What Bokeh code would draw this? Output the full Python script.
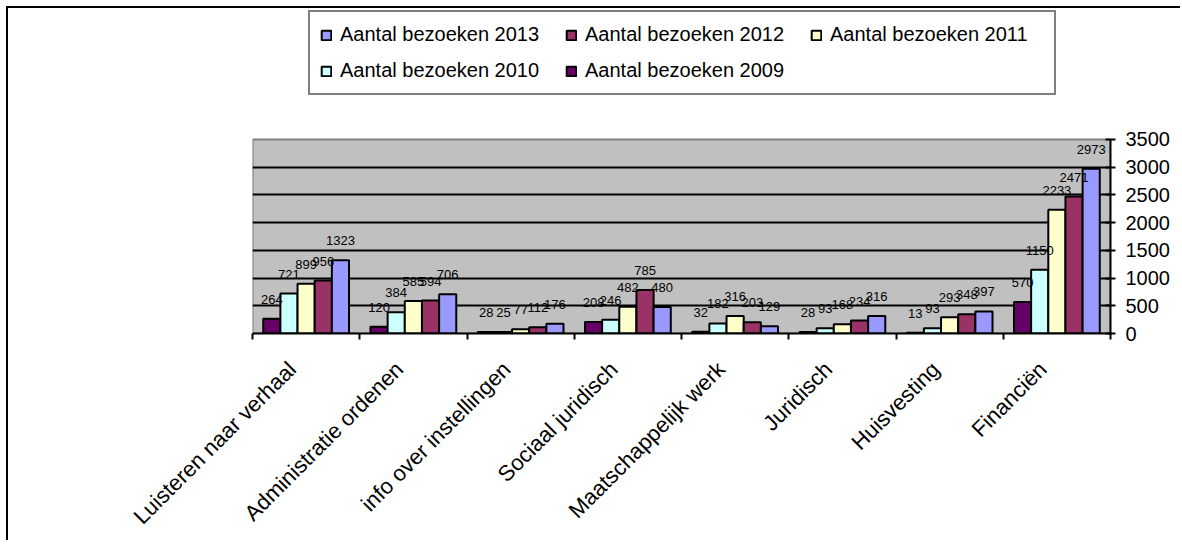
import math
from bokeh.plotting import figure
from bokeh.models import ColumnDataSource, FixedTicker, Legend, LegendItem, Range1d
from bokeh.transform import dodge
from bokeh.core.properties import value
from bokeh.embed import file_html
from bokeh.resources import INLINE

categories = ["Luisteren naar verhaal", "Administratie ordenen", "info over instellingen",
              "Sociaal juridisch", "Maatschappelijk werk", "Juridisch", "Huisvesting", "Financiën"]
v2009 = [264, 120, 28, 208, 32, 28, 13, 570]
v2010 = [721, 384, 25, 246, 182, 93, 93, 1150]
v2011 = [899, 585, 77, 482, 316, 168, 293, 2233]
v2012 = [956, 594, 112, 785, 203, 234, 348, 2471]
v2013 = [1323, 706, 176, 480, 129, 316, 397, 2973]
years = ["2009", "2010", "2011", "2012", "2013"]
colors = ["#660066", "#CCFFFF", "#FFFFCC", "#993366", "#9999FF"]
y_ticks = [0, 500, 1000, 1500, 2000, 2500, 3000, 3500]
y_max = 3500
y_view_max = 5863  # frame extends above the plot area to host the legend

series = [v2009, v2010, v2011, v2012, v2013]
data = {"xc": [i + 0.5 for i in range(len(categories))]}
for y, vals in zip(years, series):
    data["v" + y] = vals
    data["t" + y] = [str(v) for v in vals]
source = ColumnDataSource(data)

FONT = "Liberation Sans"
ncat = len(categories)

p = figure(width=1174, height=534, x_range=Range1d(0, ncat), y_range=Range1d(0, y_view_max),
           y_axis_location="right", output_backend="svg", toolbar_location=None,
           min_border_left=244, min_border_right=72, min_border_top=0, min_border_bottom=209)
p.styles = {"margin-left": "6px", "margin-top": "6px",
            "border-top": "2px solid black", "border-left": "2px solid black"}

p.background_fill_color = "white"
p.border_fill_color = "white"
p.outline_line_color = None

# grey plot area
p.quad(left=[0], right=[ncat], bottom=[0], top=[y_max], fill_color="#C0C0C0",
       line_color="#808080", line_width=2, level="image")

bw = 0.16
offsets = [-0.32, -0.16, 0.0, 0.16, 0.32]
renderers = {}
for y, off, c in zip(years, offsets, colors):
    r = p.vbar(x=dodge("xc", off), top="v" + y, width=bw, bottom=0, source=source,
               fill_color=c, line_color="black", line_width=2)
    renderers[y] = r
for y, off in zip(years, offsets):
    p.text(x=dodge("xc", off), y="v" + y, text="t" + y, source=source,
           text_align="center", text_baseline="bottom", y_offset=-15,
           text_font=value(FONT), text_font_size="13px", text_color="black")

# x axis: category labels near centres, tick marks at boundaries
label_pos = [i + 0.37 for i in range(ncat)]
xa = p.xaxis[0]
xa.ticker = FixedTicker(ticks=label_pos, minor_ticks=list(range(ncat + 1)))
xa.major_label_overrides = {lp: c for lp, c in zip(label_pos, categories)}
xa.major_tick_line_color = None
xa.minor_tick_line_color = "black"
xa.minor_tick_line_width = 2
xa.minor_tick_out = 6
xa.minor_tick_in = 0
xa.axis_line_color = "black"
xa.axis_line_width = 2
xa.major_label_orientation = math.pi / 4
xa.major_label_text_font = FONT
xa.major_label_text_font_size = "22px"
xa.major_label_text_color = "black"
xa.major_label_standoff = 26

ya = p.yaxis[0]
ya.ticker = FixedTicker(ticks=y_ticks)
ya.bounds = (0, y_max)
ya.axis_line_color = "black"
ya.axis_line_width = 2
ya.major_tick_line_color = "black"
ya.major_tick_line_width = 2
ya.major_tick_in = 5
ya.major_tick_out = 5
ya.minor_tick_line_color = None
ya.major_label_text_font = FONT
ya.major_label_text_font_size = "20px"
ya.major_label_text_color = "black"
ya.major_label_standoff = 10

p.xgrid.grid_line_color = None
p.ygrid.ticker = FixedTicker(ticks=y_ticks[1:-1])
p.ygrid.grid_line_color = "black"
p.ygrid.grid_line_width = 2

legend = Legend(items=[LegendItem(label="Aantal bezoeken " + y, renderers=[renderers[y]])
                       for y in ["2013", "2012", "2011", "2010", "2009"]],
                location=(56, 238), orientation="horizontal", ncols=3,
                label_text_font=FONT, label_text_font_size="20px", label_text_color="black",
                glyph_width=12, glyph_height=12, label_standoff=8, label_height=25,
                label_width=214, spacing=11, padding=10, margin=0,
                border_line_color="black", border_line_width=2,
                background_fill_color="white", background_fill_alpha=1)
p.add_layout(legend, "center")

open("out.html", "w").write(file_html(p, INLINE))
